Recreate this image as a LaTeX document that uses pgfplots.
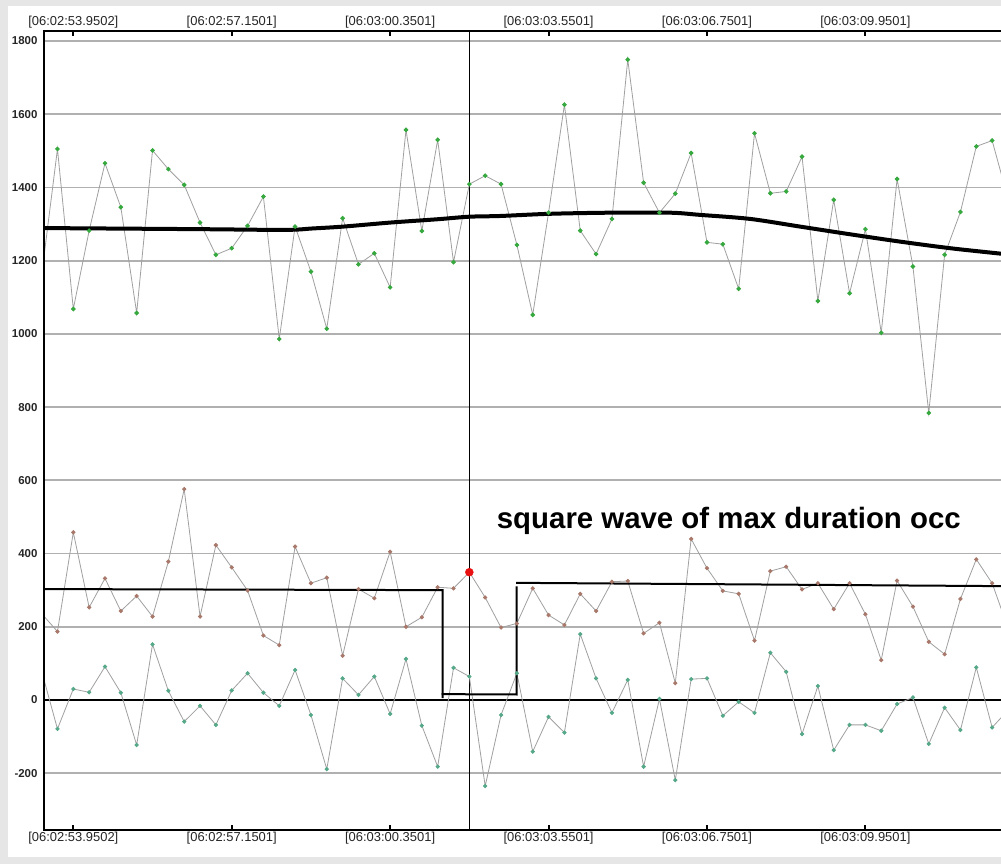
\documentclass[border=0pt]{standalone}
\usepackage{fontspec}
\setmainfont{Liberation Sans}
\usepackage{pgfplots}
\usepackage{pgfplotstable}
\pgfplotsset{compat=1.18}
\definecolor{bggray}{HTML}{E6E6E6}
\definecolor{gridgray}{HTML}{B0B0B0}
\definecolor{linegray}{HTML}{A0A0A0}
\definecolor{topgreen}{HTML}{35A83E}
\definecolor{midbrown}{HTML}{A8786A}
\definecolor{botteal}{HTML}{55A888}
\definecolor{dotred}{HTML}{E81010}

\pgfplotstableread{
i top mid bot
-2 1160 236 79
-1 1505 187 -79
0 1068 458 30
1 1282 253 21
2 1466 332 91
3 1346 243 20
4 1057 284 -123
5 1501 228 152
6 1450 378 25
7 1407 576 -59
8 1304 228 -16
9 1216 423 -68
10 1234 362 26
11 1295 299 73
12 1375 176 20
13 986 150 -16
14 1293 419 82
15 1170 319 -41
16 1014 334 -189
17 1316 121 59
18 1190 303 14
19 1220 278 64
20 1127 405 -38
21 1557 200 112
22 1281 226 -70
23 1530 308 -182
24 1196 305 88
25 1409 349 64
26 1432 280 -235
27 1409 198 -41
28 1243 209 73
29 1052 305 -141
30 1331 232 -46
31 1626 205 -89
32 1282 290 180
33 1218 243 59
34 1314 323 -35
35 1749 325 55
36 1413 182 -182
37 1331 211 3
38 1383 46 -219
39 1494 440 57
40 1250 360 59
41 1245 298 -43
42 1123 290 -5
43 1548 162 -35
44 1384 352 129
45 1389 364 77
46 1484 302 -93
47 1090 319 38
48 1366 248 -137
49 1111 319 -68
50 1286 234 -68
51 1003 109 -84
52 1423 326 -11
53 1184 255 7
54 784 159 -120
55 1216 125 -21
56 1333 276 -82
57 1512 384 89
58 1528 319 -75
59 1370 197 -28
}\datatab

\begin{document}
\begin{tikzpicture}
\useasboundingbox (0,0) rectangle (1001bp,864bp);
\clip (0,0) rectangle (1001bp,864bp);
\fill[bggray] (0,0) rectangle (1001bp,864bp);
\fill[white] (8bp,7bp) rectangle (1001bp,858bp);
\begin{axis}[
  name=main,
  at={(44bp,34bp)}, anchor=south west,
  scale only axis, width=957bp, height=799bp,
  xmin=-1.85, xmax=58.56, ymin=-355.1, ymax=1827.3,
  axis line style={draw=none},
  /pgf/number format/assume math mode=true,
  /pgf/number format/1000 sep={},
  xtick={0,10,20,30,40,50},
  xticklabels={[06:02:53.9502],[06:02:57.1501],[06:03:00.3501],[06:03:03.5501],[06:03:06.7501],[06:03:09.9501]},
  xtick pos=both,
  tick align=inside,
  major tick length=5bp,
  xtick style={black, line width=2bp},
  xticklabel style={font=\fontsize{13}{13}\selectfont, text=black!85, yshift=1bp},
  ytick={-200,0,200,400,600,800,1000,1200,1400,1600,1800},
  ytick style={draw=none},
  yticklabel style={font=\bfseries\fontsize{11.5}{12}\selectfont, text=black!85, xshift=-3bp},
  ymajorgrids=true,
  major grid style={color=gridgray, line width=1.8bp},
  extra y ticks={0},
  extra y tick labels={},
  extra y tick style={major tick length=0pt, ymajorgrids=true, major grid style={black, line width=2bp}},
  extra x ticks={25},
  extra x tick labels={},
  extra x tick style={major tick length=0pt, xmajorgrids=true, major grid style={black, line width=1.3bp}},
]
\addplot[color=linegray, line width=0.8bp, mark=*, mark size=1.9bp, mark options={draw=topgreen, fill=topgreen}] table[x=i,y=top]{\datatab};
\addplot[color=linegray, line width=0.8bp, mark=*, mark size=1.7bp, mark options={draw=midbrown, fill=midbrown}] table[x=i,y=mid]{\datatab};
\addplot[color=linegray, line width=0.8bp, mark=*, mark size=1.7bp, mark options={draw=botteal, fill=botteal}] table[x=i,y=bot]{\datatab};
\addplot[black, line width=4bp, smooth] coordinates {
(-1.85,1289) (8,1286) (13.36,1284) (15.13,1288) (17.03,1293) (20,1304) (22.96,1313) (24.98,1320) (26.94,1322) (30.1,1328) (33.88,1331) (37.67,1331) (39.57,1325) (42.72,1314) (45.88,1293) (49.04,1272) (52.19,1252) (55.35,1234) (58.57,1219)};
\addplot[black, line width=2bp] coordinates {(-1.9,303) (23.32,300) (23.32,5)};
\addplot[black, line width=2bp] coordinates {(23.25,16) (27.99,15) (27.99,310)};
\addplot[black, line width=2bp] coordinates {(27.95,320) (58.6,311)};
\addplot[only marks, mark=*, mark size=4bp, color=dotred] coordinates {(25,349)};
\end{axis}
\begin{axis}[
  at={(44bp,34bp)}, anchor=south west,
  scale only axis, width=957bp, height=799bp,
  xmin=-1.85, xmax=58.56, ymin=-355.1, ymax=1827.3,
  axis line style={draw=none},
  xtick={0,10,20,30,40,50},
  xticklabels={[06:02:53.9502],[06:02:57.1501],[06:03:00.3501],[06:03:03.5501],[06:03:06.7501],[06:03:09.9501]},
  xticklabel pos=upper,
  xtick style={draw=none},
  xticklabel style={font=\fontsize{13}{13}\selectfont, text=black!85, yshift=-1bp},
  ytick=\empty,
]
\end{axis}
\draw[black, line width=2.5bp] (main.north east) -- (main.north west) -- (main.south west) -- (main.south east);
\node[anchor=base west, inner sep=0pt, font=\bfseries\fontsize{29.5}{30}\selectfont] at (496.7bp,335.7bp) {square wave of max duration occ};
\end{tikzpicture}
\end{document}
